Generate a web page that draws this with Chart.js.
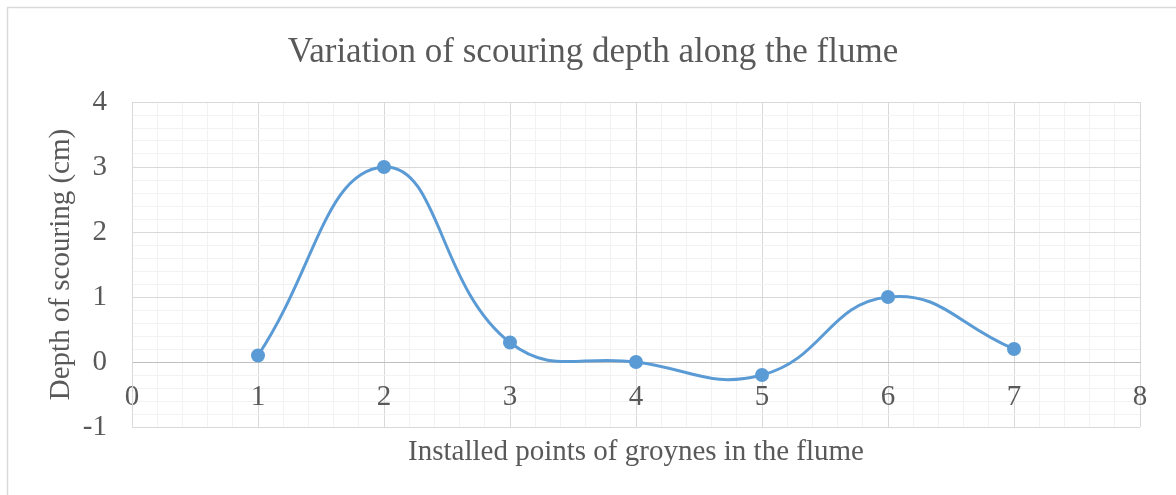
<!DOCTYPE html>
<html>
<head>
<meta charset="utf-8">
<script src="https://cdn.jsdelivr.net/npm/chart.js@4.4.1/dist/chart.umd.min.js"></script>
<style>
  html, body { margin: 0; padding: 0; background: #ffffff; }
  #wrap { width: 1176px; height: 495px; position: relative; }
</style>
</head>
<body>
<div id="wrap"><canvas id="c" width="1176" height="495"></canvas></div>
<script>
// ---- Data ----
const groynePoints = [1, 2, 3, 4, 5, 6, 7];
const scourDepth = [0.1, 3, 0.3, 0, -0.2, 1, 0.2];
const xTickLabels = [0, 1, 2, 3, 4, 5, 6, 7, 8];
const yTickLabels = [-1, 0, 1, 2, 3, 4];

const chartTitle = 'Variation of scouring depth along the flume';
const xTitle = 'Installed points of groynes in the flume';
const yTitle = 'Depth of scouring (cm)';

const FONT = '"Liberation Serif", "Times New Roman", serif';
const TEXT = '#595959';
const MAJOR = '#D9D9D9';
const MINOR = '#F2F2F2';
const AXIS0 = '#BFBFBF';
const BLUE = '#5B9BD5';

const isIn = (v, arr) => arr.some(a => Math.abs(a - v) < 1e-6);

const framePlugin = {
  id: 'frameAndTitles',
  beforeDraw(chart) {
    const ctx = chart.ctx;
    ctx.save();
    ctx.fillStyle = '#ffffff';
    ctx.fillRect(0, 0, chart.width, chart.height);
    ctx.strokeStyle = '#D9D9D9';
    ctx.lineWidth = 1.5;
    ctx.strokeRect(7.5, 7.5, chart.width + 10, chart.height + 10);
    ctx.restore();
  },
  afterDraw(chart) {
    const ctx = chart.ctx;
    const area = chart.chartArea;
    ctx.save();
    ctx.fillStyle = TEXT;
    ctx.textAlign = 'center';
    ctx.textBaseline = 'middle';
    ctx.font = '35px ' + FONT;
    ctx.fillText(chartTitle, 593, 53);
    ctx.font = '29px ' + FONT;
    ctx.fillText(xTitle, (area.left + area.right) / 2, area.bottom + 25);
    ctx.restore();
  }
};

const data = {
  datasets: [{
    data: groynePoints.map((x, i) => ({ x: x, y: scourDepth[i] })),
    borderColor: BLUE,
    backgroundColor: BLUE,
    borderWidth: 3,
    pointRadius: 7,
    pointBackgroundColor: BLUE,
    pointBorderColor: BLUE,
    pointBorderWidth: 0,
    tension: 0.45,
    showLine: true,
    fill: false
  }]
};

new Chart(document.getElementById('c'), {
  type: 'scatter',
  data: data,
  plugins: [framePlugin],
  options: {
    responsive: false,
    animation: false,
    devicePixelRatio: 1,
    layout: { padding: { left: 8, right: 36, top: 102, bottom: 68 } },
    plugins: {
      legend: { display: false },
      tooltip: { enabled: false },
      title: { display: false },
      subtitle: { display: false }
    },
    scales: {
      x: {
        type: 'linear',
        position: { y: 0 },
        min: 0,
        max: 8,
        ticks: {
          stepSize: 0.2,
          autoSkip: false,
          maxRotation: 0,
          padding: 18,
          color: TEXT,
          font: { family: FONT, size: 29, lineHeight: 1.2 },
          callback: v => isIn(v, xTickLabels) ? String(Math.round(v)) : ''
        },
        grid: {
          drawTicks: false,
          lineWidth: 1,
          color: ctx => (ctx.tick && isIn(ctx.tick.value, xTickLabels)) ? MAJOR : MINOR
        },
        border: { display: true, color: AXIS0, width: 1 }
      },
      y: {
        type: 'linear',
        position: 'left',
        min: -1,
        max: 4,
        afterFit: s => { s.width = 124; },
        ticks: {
          stepSize: 0.2,
          autoSkip: false,
          padding: 25,
          color: TEXT,
          font: { family: FONT, size: 29, lineHeight: 1.2 },
          callback: v => isIn(v, yTickLabels) ? String(Math.round(v)) : ''
        },
        grid: {
          drawTicks: false,
          lineWidth: 1,
          color: ctx => {
            if (!ctx.tick) return MINOR;
            const v = ctx.tick.value;
            if (Math.abs(v) < 1e-6) return AXIS0;
            return isIn(v, yTickLabels) ? MAJOR : MINOR;
          }
        },
        border: { display: true, color: MAJOR, width: 1 },
        title: {
          display: true,
          text: yTitle,
          color: TEXT,
          font: { family: FONT, size: 29, weight: 'normal', lineHeight: 1.2 },
          padding: { top: 36, bottom: 0 }
        }
      }
    }
  }
});
</script>
</body>
</html>
